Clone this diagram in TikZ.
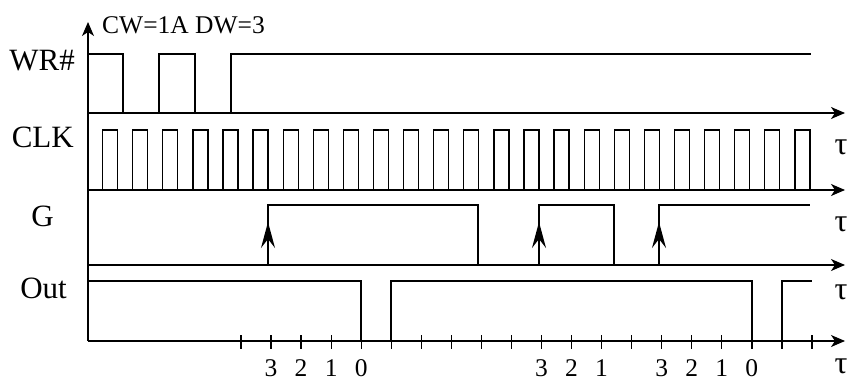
\documentclass[tikz,border=0pt]{standalone}
\usepackage{fontspec}
\setmainfont{Liberation Serif}
\usetikzlibrary{arrows.meta,positioning}

\begin{document}
\begin{tikzpicture}[
    x=1pt, y=-1pt,
    axis/.style={-{Stealth[length=14pt,width=12pt,inset=4pt]}, line width=1.4pt},
    wave/.style={line width=1.3pt},
    edgearrow/.style={-{Stealth[length=26pt,width=14pt,inset=9pt]}, line width=1.3pt},
    sig/.style={font=\fontsize{31}{31}\selectfont, anchor=east, inner sep=0pt},
    tau/.style={font=\fontsize{32}{32}\selectfont, inner sep=0pt},
    num/.style={font=\fontsize{25.5}{25.5}\selectfont, inner sep=0pt}
]
    \useasboundingbox (0,0) rectangle (851,380);

    % Axes
    \draw[axis] (88,341) -- (88,22);
    \foreach \y in {113,190,265,341}
        \draw[axis] (88,\y) -- (845,\y);

    % Signal names
    \node[sig] (wr) at (75,61) {WR\#};
    \node[sig] (clk) at (74,137) {CLK};
    \node[sig] (g) at (54,216) {G};
    \node[sig] (out) at (67,288) {Out};
    \node[num, anchor=west] (cw) at (102,25) {CW=1A DW=3};

    % WR#
    \draw[wave] (88,54) -- (123,54) -- (123,113) -- (159,113) -- (159,54)
        -- (195,54) -- (195,113) -- (231,113) -- (231,54) -- (811,54);

    % CLK
    \foreach \i in {0,...,23}
        \draw[wave] ({102.6+30.1*\i},190) -- ++(0,-60) -- ++(15,0) -- ++(0,60);

    % G
    \draw[wave] (88,265) -- (268,265) -- (268,205) -- (478,205) -- (478,265)
        -- (539,265) -- (539,205) -- (614,205) -- (614,265) -- (659,265)
        -- (659,205) -- (810,205);
    \foreach \x in {268,539,659}
        \draw[edgearrow] (\x,265) -- (\x,222);

    % Out
    \draw[wave] (88,281) -- (361,281) -- (361,341) -- (391,341) -- (391,281)
        -- (752,281) -- (752,341) -- (782,341) -- (782,281) -- (812,281);

    % Ticks and counts
    \foreach \i in {0,...,19}
        \draw[wave] ({241+30.05*\i},335) -- ++(0,14);
    \foreach \i/\d in {1/3,2/2,3/1,4/0,10/3,11/2,12/1,14/3,15/2,16/1,17/0}
        \node[num, anchor=base] (n\i) at ({241+30.05*\i},376) {\d};

    % Time labels
    \node[tau] (tclk) at (841,147) {τ};
    \node[tau] (tg) at (841,224) {τ};
    \node[tau] (tout) at (841,292) {τ};
    \node[tau] (taxis) at (841,366) {τ};
\end{tikzpicture}
\end{document}
